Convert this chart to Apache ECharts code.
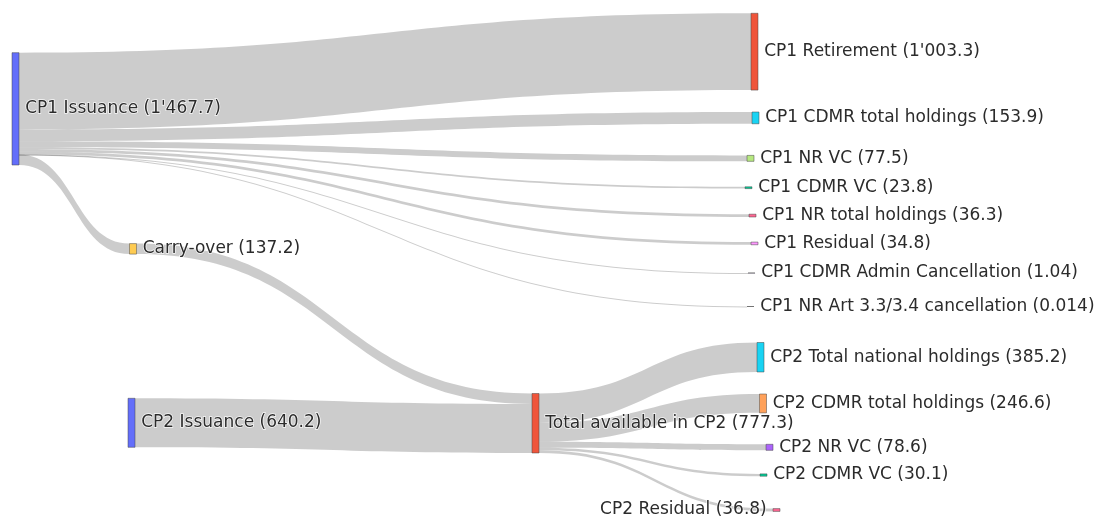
<!DOCTYPE html>
<html><head><meta charset="utf-8">
<script src="https://cdn.jsdelivr.net/npm/echarts@6/dist/echarts.min.js"></script>
<style>html,body{margin:0;padding:0;background:#fff}#c{width:1104px;height:518px}</style>
</head><body><div id="c"></div>
<script>
// ---- data ----
const nodeNames = [
  'CP1 Issuance', 'CP2 Issuance',
  'CP1 Retirement', 'CP1 CDMR total holdings', 'CP1 NR VC', 'CP1 CDMR VC',
  'CP1 NR total holdings', 'CP1 Residual', 'CP1 CDMR Admin Cancellation',
  'CP1 NR Art 3.3/3.4 cancellation', 'Carry-over',
  'Total available in CP2',
  'CP2 Total national holdings', 'CP2 CDMR total holdings', 'CP2 NR VC', 'CP2 CDMR VC', 'CP2 Residual'
];
const nodeValues = [1467.7, 640.2, 1003.3, 153.9, 77.5, 23.8, 36.3, 34.8, 1.04, 0.014, 137.2, 777.3, 385.2, 246.6, 78.6, 30.1, 36.8];

const linkSource = [
  'CP1 Issuance', 'CP1 Issuance', 'CP1 Issuance', 'CP1 Issuance', 'CP1 Issuance',
  'CP1 Issuance', 'CP1 Issuance', 'CP1 Issuance', 'CP1 Issuance',
  'Carry-over', 'CP2 Issuance',
  'Total available in CP2', 'Total available in CP2', 'Total available in CP2',
  'Total available in CP2', 'Total available in CP2'
];
const linkTarget = [
  'CP1 Retirement', 'CP1 CDMR total holdings', 'CP1 NR VC', 'CP1 CDMR VC',
  'CP1 NR total holdings', 'CP1 Residual', 'CP1 CDMR Admin Cancellation',
  'CP1 NR Art 3.3/3.4 cancellation', 'Carry-over',
  'Total available in CP2', 'Total available in CP2',
  'CP2 Total national holdings', 'CP2 CDMR total holdings', 'CP2 NR VC', 'CP2 CDMR VC', 'CP2 Residual'
];
const linkValues = [1003.3, 153.9, 77.5, 23.8, 36.3, 34.8, 1.04, 0.014, 137.2, 137.2, 640.2, 385.2, 246.6, 78.6, 30.1, 36.8];

// ---- layout / style (not data) ----
const W = 1104, H = 161.3;
const nodePos = [
  [12, 52.7], [128, 398.3],
  [751, 13.3], [752, 112], [747, 155.4], [745, 186.8],
  [749, 214.2], [751, 242.1], [748, 273], [747, 306.5], [129.5, 243.6],
  [532, 393.5],
  [757, 342.5], [759.5, 394], [766, 444.3], [760, 473.9], [773, 508.6]
];
const nodeColors = [
  '#636efa', '#636efa',
  '#EF553B', '#19d3f3', '#B6E880', '#00cc96', '#FF6692', '#FF97FF', '#ab63fa', '#FFA15A', '#FECB52',
  '#EF553B',
  '#19d3f3', '#FFA15A', '#ab63fa', '#00cc96', '#FF6692'
];

function fmt(v) {
  const parts = String(v).split('.');
  return parts[0].replace(/\B(?=(\d{3})+(?!\d))/g, "'") + (parts.length > 1 ? '.' + parts[1] : '');
}

const chart = echarts.init(document.getElementById('c'));
chart.setOption({
  animation: false,
  backgroundColor: '#fff',
  series: [{
    type: 'sankey',
    left: 0, top: 0, width: W, height: H,
    nodeWidth: 7, nodeGap: 0, layoutIterations: 0, nodeAlign: 'left', draggable: false,
    emphasis: { disabled: true },
    data: nodeNames.map((n, i) => ({
      name: n,
      localX: nodePos[i][0] / W,
      localY: nodePos[i][1] / H,
      itemStyle: { color: nodeColors[i], borderColor: '#444', borderWidth: 0.5 },
      label: n === 'CP2 Residual' ? { position: 'left', distance: 6 } : undefined
    })),
    links: linkSource.map((s, i) => ({ source: s, target: linkTarget[i], value: linkValues[i] })),
    lineStyle: { color: '#000', opacity: 0.2, curveness: 0.5 },
    label: {
      show: true, position: 'right', distance: 6,
      fontFamily: 'DejaVu Sans', fontSize: 17, color: '#2b2b2b',
      textBorderColor: 'rgba(255,255,255,0.85)', textBorderWidth: 1.5,
      formatter: p => p.name + ' (' + fmt(nodeValues[nodeNames.indexOf(p.name)]) + ')'
    }
  }]
});
</script></body></html>
